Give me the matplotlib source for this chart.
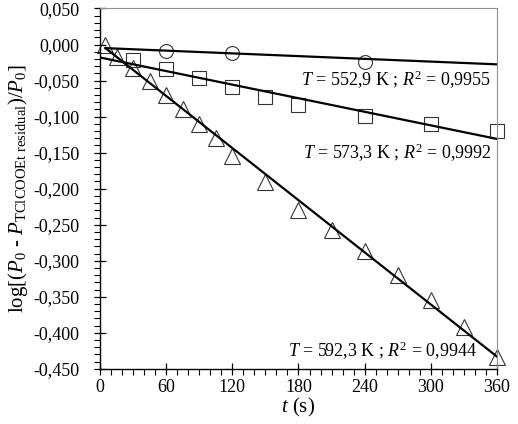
import matplotlib
matplotlib.use('Agg')
import matplotlib.pyplot as plt
from matplotlib.ticker import MultipleLocator, FuncFormatter

plt.rcParams['font.family'] = 'Liberation Serif'
plt.rcParams['mathtext.fontset'] = 'custom'
plt.rcParams['mathtext.rm'] = 'Liberation Serif'
plt.rcParams['mathtext.it'] = 'Liberation Serif:italic'

# T = 592,3 K (triangles)
t_tri = [5, 15, 30, 45, 60, 75, 90, 105, 120, 150, 180, 210, 240, 270, 300, 330, 360]
v_tri = [0.000, -0.018, -0.033, -0.051, -0.070, -0.089, -0.110, -0.130, -0.154,
         -0.191, -0.229, -0.257, -0.287, -0.320, -0.355, -0.392, -0.433]

# T = 573,3 K (squares)
t_sq = [30, 60, 90, 120, 150, 180, 240, 300, 360]
v_sq = [-0.021, -0.034, -0.047, -0.059, -0.073, -0.084, -0.099, -0.110, -0.120]

# T = 552,9 K (circles)
t_circ = [60, 120, 240]
v_circ = [-0.009, -0.012, -0.024]

# trend lines
fit_circ_t = [5, 360]
fit_circ_v = [-0.005, -0.0275]
fit_sq_t = [0, 360]
fit_sq_v = [-0.018, -0.131]
fit_tri_t = [5, 360]
fit_tri_v = [-0.005, -0.433]

labels = ['$T$ = 552,9 K ; $R^2$ = 0,9955',
          '$T$ = 573,3 K ; $R^2$ = 0,9992',
          '$T$ = 592,3 K ; $R^2$ = 0,9944']

fig = plt.figure(figsize=(5.18, 4.24), dpi=100)
ax = fig.add_axes([0.193, 0.13, 0.7665, 0.85])

ax.plot(t_circ, v_circ, 'o', ms=10, mfc='none', mec='#333333', mew=0.8, clip_on=False)
ax.plot(t_sq, v_sq, 's', ms=10, mfc='none', mec='#333333', mew=0.8, clip_on=False)
ax.plot(t_tri, v_tri, '^', ms=11, mfc='none', mec='#333333', mew=0.8, clip_on=False)

ax.plot(fit_circ_t, fit_circ_v, color='black', lw=1.6)
ax.plot(fit_sq_t, fit_sq_v, color='black', lw=1.6)
ax.plot(fit_tri_t, fit_tri_v, color='black', lw=1.6)

ax.text(355, -0.049, labels[0], ha='right', va='center', fontsize=13)
ax.text(355, -0.151, labels[1], ha='right', va='center', fontsize=13)
ax.text(342, -0.425, labels[2], ha='right', va='center', fontsize=13)

ax.set_xlim(0, 360)
ax.set_ylim(-0.45, 0.05)
ax.xaxis.set_major_locator(MultipleLocator(60))
ax.xaxis.set_minor_locator(MultipleLocator(10))
ax.yaxis.set_major_locator(MultipleLocator(0.05))
ax.yaxis.set_minor_locator(MultipleLocator(0.01))
ax.yaxis.set_major_formatter(FuncFormatter(lambda v, p: ('%.3f' % v).replace('.', ',').replace('-0,000', '0,000')))

ax.tick_params(which='major', direction='inout', length=8, width=0.9, labelsize=13)
ax.tick_params(axis='y', which='major', pad=11)
ax.tick_params(axis='x', which='major', pad=3)
ax.tick_params(which='minor', direction='out', length=4, width=0.8)

for s in ['top', 'right']:
    ax.spines[s].set_color('#909090')
    ax.spines[s].set_linewidth(0.8)
for s in ['left', 'bottom']:
    ax.spines[s].set_linewidth(1.0)

ax.set_xlabel('$t$ (s)', fontsize=15, labelpad=0)
ax.set_ylabel('log[($P_0$ - $P_{\\mathrm{TClCOOEt\\ residual}}$)/$P_0$]', fontsize=15, labelpad=2)

fig.savefig('out.png', dpi=100)
